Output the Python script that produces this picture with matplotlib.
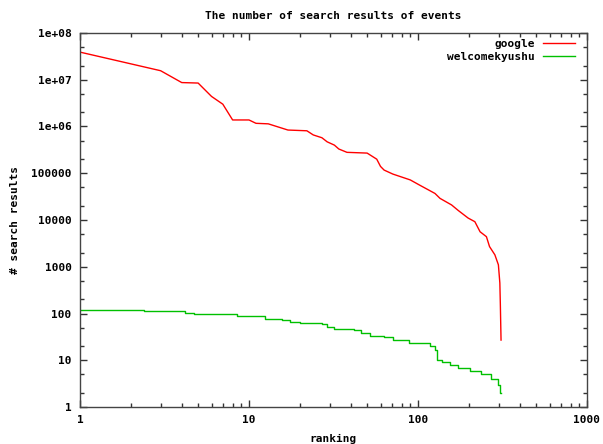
import matplotlib
matplotlib.use("Agg")
import matplotlib.pyplot as plt
from matplotlib.ticker import LogLocator, FixedLocator, NullFormatter

# data (rank, number of search results)
google_rank = [1, 3, 4, 5, 6, 7, 8, 10, 11, 13, 17, 22, 24, 27, 29, 32, 34, 38,
               50, 57, 60, 63, 71, 90, 102, 126, 135, 158, 173, 198, 217, 233,
               254, 265, 285, 299, 305, 307, 310]
google_hits = [3.9e7, 1.56e7, 8.7e6, 8.5e6, 4.4e6, 3.0e6, 1.38e6, 1.38e6, 1.17e6,
               1.14e6, 8.4e5, 8.1e5, 6.6e5, 5.75e5, 4.7e5, 4.0e5, 3.3e5, 2.8e5,
               2.7e5, 2.0e5, 1.4e5, 1.17e5, 9.6e4, 7.2e4, 5.6e4, 3.7e4, 2.9e4,
               2.1e4, 1.6e4, 1.1e4, 9.2e3, 5.6e3, 4.4e3, 2.7e3, 1.8e3, 1.1e3,
               450, 165, 27]

kyushu_rank = [1, 2.4, 4.2, 4.7, 5.5, 8.5, 12.4, 15.6, 17.5, 20, 27, 29, 32,
               42, 46, 52, 63, 71, 89, 117, 126, 129, 138, 154, 173, 203, 237,
               272, 299, 305, 308]
kyushu_hits = [119, 114, 104, 100, 97, 88, 77, 74, 67, 64, 60, 52, 47, 45, 38,
               33, 31, 27, 23, 20, 16.6, 10, 9.3, 7.9, 6.7, 6.0, 5.0, 4.0, 3.0,
               2.0, 2.0]

series_names = ["google", "welcomekyushu"]
y_ticks = [1, 10, 100, 1000, 10000, 100000, 1e6, 1e7, 1e8]
y_labels = ["1", "10", "100", "1000", "10000", "100000", "1e+06", "1e+07", "1e+08"]
x_ticks = [1, 10, 100, 1000]
x_labels = ["1", "10", "100", "1000"]

plt.rcParams["font.family"] = "DejaVu Sans Mono"
plt.rcParams["font.weight"] = "bold"
fs = 8

fig = plt.figure(figsize=(6.03, 4.44), dpi=100)
ax = fig.add_axes([80 / 603, 37 / 444, 507 / 603, 374 / 444])

ax.plot(google_rank, google_hits, color="#ff0000", lw=1, label=series_names[0])
ax.plot(kyushu_rank, kyushu_hits, color="#00c000", lw=1,
        drawstyle="steps-post", label=series_names[1])

ax.set_xscale("log")
ax.set_yscale("log")
ax.set_xlim(1, 1000)
ax.set_ylim(1, 1e8)

ax.xaxis.set_major_locator(FixedLocator(x_ticks))
ax.set_xticklabels(x_labels)
ax.xaxis.set_minor_locator(LogLocator(base=10, subs=range(2, 10)))
ax.xaxis.set_minor_formatter(NullFormatter())
ax.yaxis.set_major_locator(FixedLocator(y_ticks))
ax.set_yticklabels(y_labels)
ax.yaxis.set_minor_locator(LogLocator(base=10, subs=[2, 5], numticks=20))
ax.yaxis.set_minor_formatter(NullFormatter())

ax.tick_params(which="both", direction="in", top=True, right=True,
               labelsize=fs, color="#333333")
ax.tick_params(which="major", length=5, width=1, pad=6)
ax.tick_params(which="minor", length=3, width=1)
for s in ax.spines.values():
    s.set_color("#444444")
    s.set_linewidth(1)

ax.set_title("The number of search results of events", fontsize=fs,
             fontweight="bold", pad=10)
ax.set_xlabel("ranking", fontsize=fs, fontweight="bold", labelpad=6)
ax.set_ylabel("# search results", fontsize=fs, fontweight="bold", labelpad=8)

ax.legend(loc="upper right", bbox_to_anchor=(1 - 12 / 507, 1 - 6 / 374),
          frameon=False, markerfirst=False, fontsize=fs,
          handlelength=2.9, handletextpad=0.7, labelspacing=0.25,
          borderaxespad=0, borderpad=0)

fig.savefig("out.png", dpi=100)
